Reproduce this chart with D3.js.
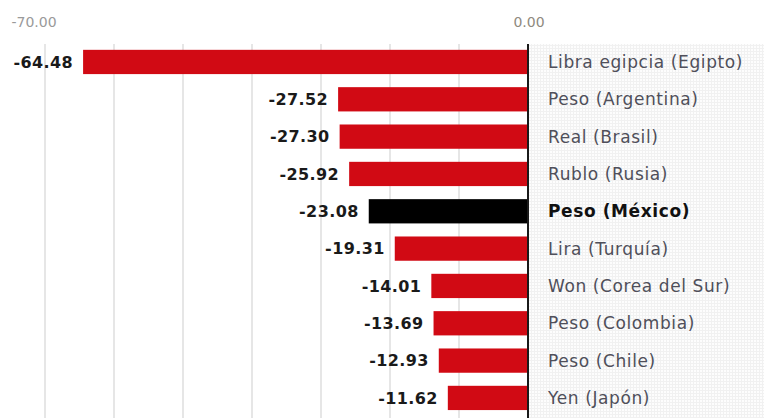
<!DOCTYPE html>
<html>
<head>
<meta charset="utf-8">
<script src="https://cdn.jsdelivr.net/npm/d3@7"></script>
<style>
  body { margin: 0; background: #fff; }
  svg { display: block; font-family: "DejaVu Sans", sans-serif; }
</style>
</head>
<body>
<svg width="764" height="418"></svg>
<script>
// currencies and their change (%)
const currencies = ["Libra egipcia (Egipto)", "Peso (Argentina)", "Real (Brasil)", "Rublo (Rusia)",
  "Peso (México)", "Lira (Turquía)", "Won (Corea del Sur)", "Peso (Colombia)", "Peso (Chile)", "Yen (Japón)"];
const changes = [-64.48, -27.52, -27.30, -25.92, -23.08, -19.31, -14.01, -13.69, -12.93, -11.62];
const labelTicks = [-70, 0];
const gridTicks = [-70, -60, -50, -40, -30, -20, -10];
const highlight = "Peso (México)";

const data = currencies.map((c, i) => ({ name: c, value: changes[i] }));

const svg = d3.select("svg");
const W = 764, H = 418;
const zeroX = 528, topY = 44;

// x scale: 10 units ~ 69px
const x = d3.scaleLinear()
    .domain([-70, 0])
    .range([45, zeroX]);

const y = d3.scaleBand()
    .domain(currencies)
    .range([43.3, 416.6])
    .paddingInner(0.35)
    .paddingOuter(0.175);

// dotted background for label panel
const defs = svg.append("defs");
const pat = defs.append("pattern")
    .attr("id", "dots")
    .attr("width", 3).attr("height", 3)
    .attr("patternUnits", "userSpaceOnUse");
pat.append("rect").attr("width", 3).attr("height", 3).attr("fill", "#fdfdfd");
pat.append("rect").attr("width", 1).attr("height", 3).attr("fill", "#f1f1f1");
pat.append("rect").attr("width", 3).attr("height", 1).attr("fill", "#f1f1f1");

svg.append("rect")
    .attr("x", zeroX + 1).attr("y", topY)
    .attr("width", W - zeroX - 1).attr("height", H - topY)
    .attr("fill", "url(#dots)");

// gridlines
svg.append("g")
  .selectAll("line")
  .data(gridTicks)
  .enter().append("line")
    .attr("x1", d => x(d)).attr("x2", d => x(d))
    .attr("y1", topY).attr("y2", H)
    .attr("stroke", "#e6e6e6")
    .attr("stroke-width", 2);

// tick labels
svg.append("g")
  .selectAll("text")
  .data(labelTicks)
  .enter().append("text")
    .attr("x", d => d === 0 ? x(d) + 1 : x(d) - 11)
    .attr("y", 27)
    .attr("text-anchor", "middle")
    .style("font-size", "14px")
    .attr("fill", d => d === 0 ? "#8f8a80" : "#9a9a9a")
    .text(d => d3.format(".2f")(d).replace("−", "-"));

// bars
svg.append("g")
  .selectAll("rect")
  .data(data)
  .enter().append("rect")
    .attr("x", d => x(d.value))
    .attr("y", d => y(d.name))
    .attr("width", d => x(0) - x(d.value))
    .attr("height", y.bandwidth())
    .attr("fill", d => d.name === highlight ? "#000" : "#d10a14");

// zero line
svg.append("line")
    .attr("x1", zeroX).attr("x2", zeroX)
    .attr("y1", topY).attr("y2", H)
    .attr("stroke", "#1a1a1a")
    .attr("stroke-width", 2);

// value labels
svg.append("g")
  .selectAll("text")
  .data(data)
  .enter().append("text")
    .attr("x", d => x(d.value) - 10)
    .attr("y", d => y(d.name) + y.bandwidth() / 2)
    .attr("dy", "0.36em")
    .attr("text-anchor", "end")
    .style("font-size", "16px")
    .style("letter-spacing", "0.4px")
    .style("font-weight", "bold")
    .attr("fill", "#1a1a1a")
    .text(d => d3.format(".2f")(d.value).replace("−", "-"));

// category labels
svg.append("g")
  .selectAll("text")
  .data(data)
  .enter().append("text")
    .attr("x", 548)
    .attr("y", d => y(d.name) + y.bandwidth() / 2)
    .attr("dy", "0.36em")
    .style("font-size", "17px")
    .style("letter-spacing", "0.6px")
    .style("font-weight", d => d.name === highlight ? "bold" : "normal")
    .attr("fill", d => d.name === highlight ? "#111" : "#4f4f5a")
    .text(d => d.name);
</script>
</body>
</html>
